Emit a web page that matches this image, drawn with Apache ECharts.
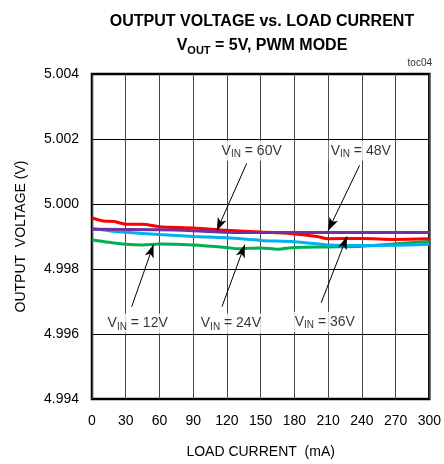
<!DOCTYPE html>
<html><head><meta charset="utf-8">
<script src="https://cdn.jsdelivr.net/npm/echarts@6/dist/echarts.min.js"></script>
<style>html,body{margin:0;padding:0;background:#fff}#c{width:444px;height:464px}</style>
</head><body><div id="c"></div>
<script>
// Data (load current mA, output voltage V)
const vin12 = [[0,4.99890],[15,4.99882],[30,4.99876],[45,4.99874],[60,4.99877],[90,4.99874],[120,4.99866],[130,4.99862],[150,4.99865],[165,4.99861],[180,4.99866],[210,4.99868],[240,4.99870],[270,4.99878],[300,4.99885]];
const vin36 = [[0,4.99925],[15,4.99918],[30,4.99913],[60,4.99906],[90,4.99900],[120,4.99896],[150,4.99888],[180,4.99884],[210,4.99874],[240,4.99872],[270,4.99873],[300,4.99876]];
const vin60 = [[0,4.99957],[10,4.99948],[20,4.99946],[30,4.99938],[45,4.99938],[60,4.99930],[90,4.99926],[120,4.99919],[150,4.99914],[180,4.99908],[200,4.99900],[210,4.99893],[240,4.99894],[270,4.99891],[300,4.99893]];
const vin48 = [[0,4.99922],[60,4.99921],[90,4.99918],[120,4.99913],[150,4.99912],[300,4.99912]];
const xTicks = [0,30,60,90,120,150,180,210,240,270,300];
const yTicks = [4.994,4.996,4.998,5.000,5.002,5.004];
// Annotations: label text, label position, arrow from, arrow to
const annLabels = [
  {v:'12V', at:[40.6,4.99632]},
  {v:'24V', at:[123.5,4.99632]},
  {v:'36V', at:[207,4.99638]},
  {v:'60V', at:[142,5.00164]},
  {v:'48V', at:[239,5.00164]}
];
const annArrows = [
  [[35.3,4.99684],[54.7,4.99875]],
  [[115.6,4.99684],[135.9,4.99875]],
  [[203.8,4.99696],[226.8,4.99900]],
  [[137.6,5.00125],[111,4.99918]],
  [[238,5.00119],[210,4.99918]]
];

const chart = echarts.init(document.getElementById('c'), null, {renderer:'canvas'});
const font = '"Liberation Sans", Arial, sans-serif';
const lw = 3;
chart.setOption({
  animation:false,
  backgroundColor:'#fff',
  textStyle:{fontFamily:font},
  title:{
    text:'OUTPUT VOLTAGE vs. LOAD CURRENT\n{b|V}{s|OUT}{b| = 5V, PWM MODE}',
    left:257, top:5, textAlign:'center',
    textStyle:{fontFamily:font,fontSize:16,fontWeight:'bold',color:'#000',lineHeight:24,
      rich:{b:{fontFamily:font,fontSize:16,fontWeight:'bold',color:'#000'},
            s:{fontFamily:font,fontSize:11,fontWeight:'bold',color:'#000',padding:[9,0,0,0]}}}
  },
  graphic:[{type:'text',right:12,top:58,style:{text:'toc04',font:'10px "Liberation Sans", Arial',fill:'#333'}}],
  grid:{left:92,right:12,top:74,bottom:61,show:true,borderColor:'#000',borderWidth:2.5,backgroundColor:'transparent'},
  xAxis:{type:'value',min:0,max:300,interval:30,
    name:'LOAD CURRENT  (mA)',nameLocation:'middle',nameGap:46,
    nameTextStyle:{fontFamily:font,fontSize:14,color:'#000'},
    axisLine:{show:false},axisTick:{show:false},
    axisLabel:{fontFamily:font,fontSize:14,color:'#000',margin:15,formatter:v=>xTicks.includes(v)?String(v):''},
    splitLine:{show:true,lineStyle:{color:'#444',width:1}}},
  yAxis:{type:'value',min:4.994,max:5.004,interval:0.002,
    name:'OUTPUT  VOLTAGE (V)',nameLocation:'middle',nameGap:64,
    nameTextStyle:{fontFamily:font,fontSize:14,color:'#000'},
    axisLine:{show:false},axisTick:{show:false},
    axisLabel:{fontFamily:font,fontSize:14,color:'#000',margin:13,formatter:v=>{const t=yTicks.find(y=>Math.abs(y-v)<1e-7);return t===undefined?'':t.toFixed(3);}},
    splitLine:{show:true,lineStyle:{color:'#000',width:1}}},
  series:[
    {name:'12V',type:'line',data:vin12,symbol:'none',smooth:0.3,lineStyle:{color:'#00b050',width:lw},z:2},
    {name:'36V',type:'line',data:vin36,symbol:'none',smooth:0.3,lineStyle:{color:'#00b0f0',width:lw},z:3},
    {name:'60V',type:'line',data:vin60,symbol:'none',smooth:0.3,lineStyle:{color:'#ff0000',width:lw},z:4},
    {name:'48V',type:'line',data:vin48,symbol:'none',smooth:0.3,lineStyle:{color:'#7030a0',width:lw},z:5},
    {name:'arrows',type:'line',data:[],z:6,
      markLine:{silent:true,symbol:['none','arrow'],symbolSize:[7,13],
        lineStyle:{color:'#000',width:1,type:'solid'},label:{show:false},
        data:annArrows.map(a=>[{coord:a[0]},{coord:a[1]}])}},
    {name:'labels',type:'scatter',symbolSize:0,z:7,
      data:annLabels.map(a=>({value:a.at,v:a.v})),
      label:{show:true,position:'inside',backgroundColor:'#fff',padding:[1,2,1,2],
        formatter:p=>'{a|V}{s|IN}{a| = '+p.data.v+'}',
        rich:{a:{fontFamily:font,fontSize:14,color:'#000'},
              s:{fontFamily:font,fontSize:10,color:'#000',padding:[8,0,0,0]}}}}
  ]
});
</script></body></html>
